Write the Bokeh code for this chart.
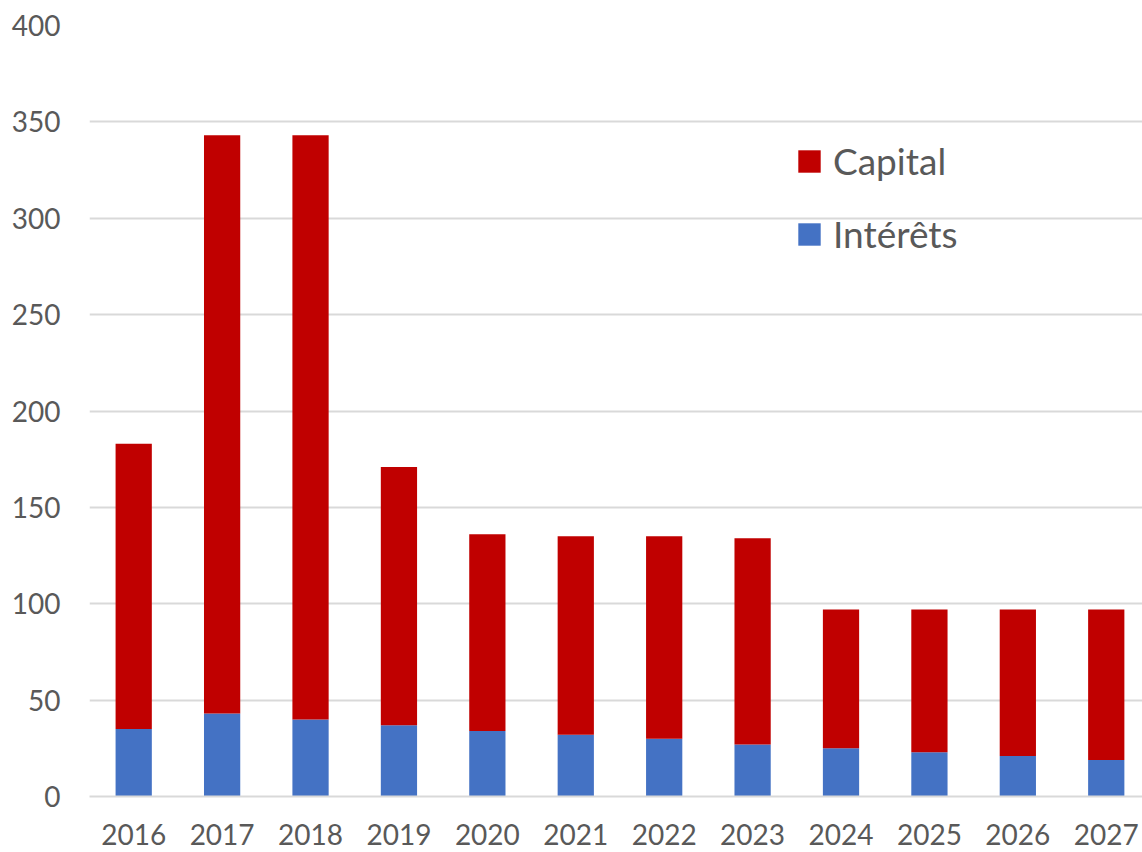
from bokeh.plotting import figure
from bokeh.models import ColumnDataSource, Range1d, Legend, LegendItem, FixedTicker
from bokeh.embed import file_html
from bokeh.resources import INLINE

years = ["2016", "2017", "2018", "2019", "2020", "2021", "2022", "2023", "2024", "2025", "2026", "2027"]
interets = [35, 43, 40, 37, 34, 32, 30, 27, 25, 23, 21, 19]
capital = [148, 300, 303, 134, 102, 103, 105, 107, 72, 74, 76, 78]
y_ticks = [0, 50, 100, 150, 200, 250, 300, 350, 400]

xs = list(range(len(years)))
src = ColumnDataSource(dict(x=xs, interets=interets, capital=capital))

p = figure(width=1142, height=852, output_backend="svg", toolbar_location=None,
           x_range=Range1d(-0.5, 11.41), y_range=Range1d(0, 400),
           min_border_left=89, min_border_right=0, min_border_top=25, min_border_bottom=56)
p.outline_line_color = None

r = p.vbar_stack(["interets", "capital"], x="x", width=0.41, source=src,
                 color=["#4472C4", "#C00000"], line_color=None)

font = "Lato"
grey = "#595959"
p.xgrid.grid_line_color = None
p.ygrid.grid_line_color = "#D9D9D9"
p.ygrid.grid_line_width = 2
p.yaxis.ticker = FixedTicker(ticks=y_ticks)
p.xaxis.ticker = FixedTicker(ticks=xs)
p.xaxis.major_label_overrides = {i: y for i, y in enumerate(years)}
for ax in (p.xaxis, p.yaxis):
    ax.axis_line_color = None
    ax.major_tick_line_color = None
    ax.minor_tick_line_color = None
    ax.major_label_text_font = font
    ax.major_label_text_color = grey
    ax.major_label_text_font_size = "28px"
p.yaxis.major_label_standoff = 23
p.xaxis.major_label_standoff = 21
p.xaxis.axis_line_color = "#D9D9D9"
p.xaxis.axis_line_width = 2

legend = Legend(items=[LegendItem(label="Capital", renderers=[r[1]]),
                       LegendItem(label="Intérêts", renderers=[r[0]])],
                location=(706, 540))
legend.label_text_font = font
legend.label_text_font_size = "37px"
legend.label_text_color = grey
legend.glyph_width = 28
legend.glyph_height = 28
legend.spacing = 28
legend.padding = 0
legend.margin = 0
legend.label_standoff = 10
legend.border_line_color = None
legend.background_fill_alpha = 0
p.add_layout(legend, "center")

open("out.html", "w").write(file_html(p, INLINE))
